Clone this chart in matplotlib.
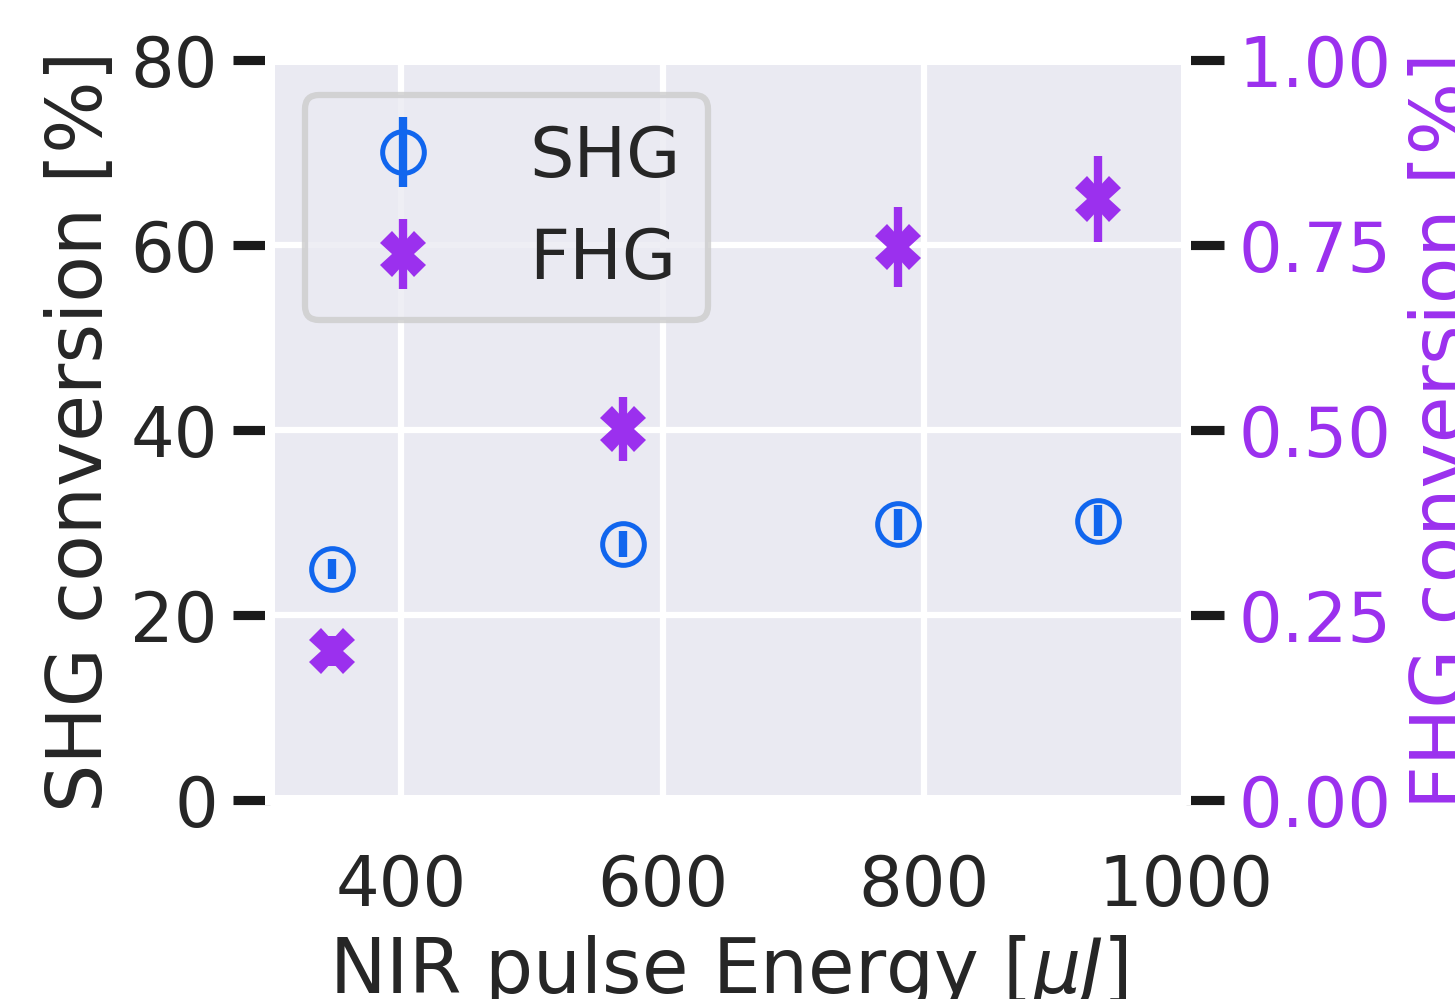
import numpy as np
import matplotlib
matplotlib.use("Agg")
import matplotlib.pyplot as plt
import seaborn as sns

# NIR pulse energy [uJ]
energy = [347, 570, 780, 933]

# SHG conversion [%] with errors
shg = [25.0, 27.7, 29.8, 30.2]
shg_err = [1.1, 1.4, 1.7, 1.7]

# FHG conversion [%] with errors
fhg = [0.201, 0.501, 0.747, 0.812]
fhg_err = [0.02, 0.043, 0.054, 0.058]

shg_color = "#1166EE"
fhg_color = "#9B30EE"

sns.set_theme(style="darkgrid", context="talk")
plt.rcParams["font.family"] = ["DejaVu Sans"]

fig = plt.figure(figsize=(4.85, 3.3333), dpi=300)
ax = fig.add_axes([0.1856, 0.199, 0.6295, 0.740])
ax2 = ax.twinx()
ax2.grid(False)

h1 = ax.errorbar(
    energy, shg, yerr=shg_err,
    fmt="o", color=shg_color, mfc="none", mew=1.2, ms=10,
    elinewidth=2.0, label="SHG"
)
h2 = ax2.errorbar(
    energy, fhg, yerr=fhg_err,
    fmt="X", color=fhg_color, ms=11, mew=0,
    elinewidth=2.0, label="FHG"
)

ax.set_xlim(300, 1000)
ax.set_ylim(0, 80)
ax2.set_ylim(0, 1)
ax.set_xticks([400, 600, 800, 1000])
ax.set_yticks([0, 20, 40, 60, 80])
ax2.set_yticks([0, 0.25, 0.5, 0.75, 1.0])
ax2.set_yticklabels(["0.00", "0.25", "0.50", "0.75", "1.00"])

ax.tick_params(axis="y", left=True, length=9, width=2.2, color="0.1")
ax2.tick_params(axis="y", right=True, length=9, width=2.2, color="0.1",
                labelcolor=fhg_color)

ax.set_xlabel("NIR pulse Energy [$\\mu J$]", fontsize=18.2, labelpad=3)
ax.set_ylabel("SHG conversion [%]", fontsize=18.3, labelpad=3)
ax2.set_ylabel("FHG conversion [%]", color=fhg_color, fontsize=18.3)

for a in (ax, ax2):
    for s in a.spines.values():
        s.set_linewidth(2.4)

ax2.legend([h1, h2], ["SHG", "FHG"], loc="upper left", fontsize=16.8)

fig.savefig("out.png", dpi=300)
